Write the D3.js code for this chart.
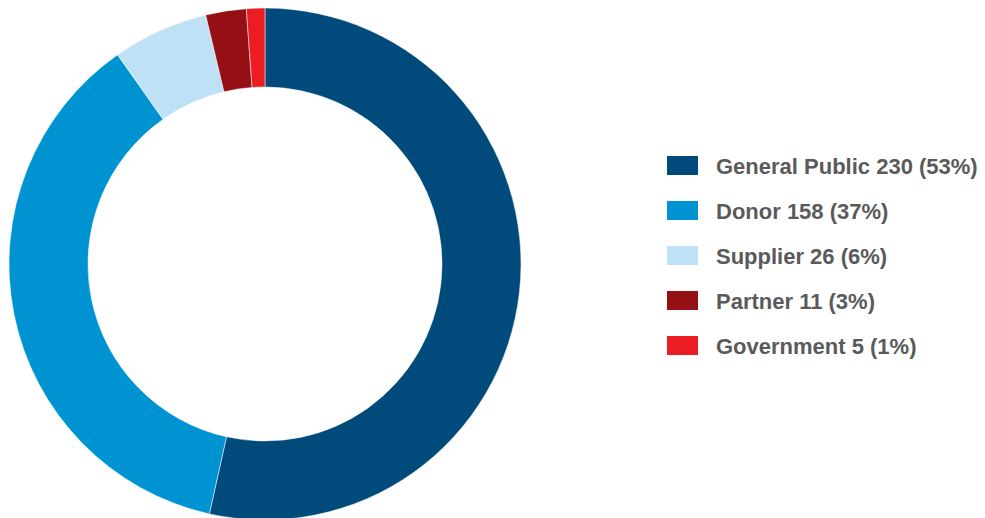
<!DOCTYPE html>
<html><head><meta charset="utf-8">
<script src="https://cdn.jsdelivr.net/npm/d3@7"></script>
<style>body{margin:0;background:#fff}svg{display:block}</style>
</head><body>
<svg id="c" width="985" height="518"></svg>
<script>
const categories = ["General Public", "Donor", "Supplier", "Partner", "Government"];
const values = [230, 158, 26, 11, 5];
const percents = ["53%", "37%", "6%", "3%", "1%"];
const colors = ["#004a7c", "#0093d1", "#bee1f6", "#951014", "#ec1c24"];

const svg = d3.select("#c");
const cx = 265, cy = 264, rOuter = 256, rInner = 177;
const pie = d3.pie().sort(null).value(d => d.v);
const arc = d3.arc().innerRadius(rInner).outerRadius(rOuter);
const data = categories.map((c, i) => ({c, v: values[i], p: percents[i], col: colors[i]}));

svg.append("g").attr("transform", `translate(${cx},${cy})`)
  .selectAll("path").data(pie(data)).join("path")
  .attr("d", arc).attr("fill", d => d.data.col)
  .attr("stroke", "#ffffff").attr("stroke-width", 0.5);

const y = d3.scaleBand().domain(categories).range([156, 381]).paddingInner(0);
const lg = svg.append("g");
const rows = lg.selectAll("g").data(data).join("g")
  .attr("transform", d => `translate(667,${y(d.c)})`);
rows.append("rect").attr("width", 31).attr("height", 19).attr("fill", d => d.col);
rows.append("text").attr("x", 49).attr("y", 18)
  .attr("font-family", "Liberation Sans, Arial, sans-serif").attr("font-weight", "bold")
  .attr("font-size", 22).attr("fill", "#5a5a5a")
  .text(d => `${d.c} ${d.v} (${d.p})`);
</script>
</body></html>
